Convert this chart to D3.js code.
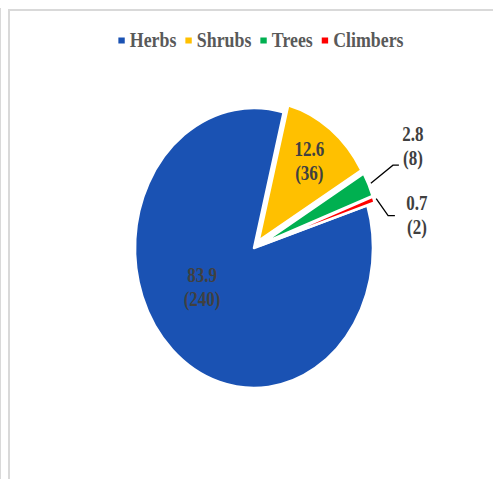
<!DOCTYPE html>
<html>
<head>
<meta charset="utf-8">
<script src="https://cdn.jsdelivr.net/npm/d3@7/dist/d3.min.js"></script>
<style>
  html, body { margin: 0; padding: 0; background: #ffffff; }
  svg { display: block; }
  text { font-family: "Liberation Serif", "Times New Roman", serif; font-weight: bold; }
</style>
</head>
<body>
<svg id="chart" width="493" height="479"></svg>
<script>
// Plant habit composition: share (%) and number of species
const categories = ["Herbs", "Shrubs", "Trees", "Climbers"];
const counts = [240, 36, 8, 2];
const percents = [83.9, 12.6, 2.8, 0.7];
const colors = ["#1A52B3", "#FFC000", "#00B050", "#FF0000"];

const W = 493, H = 479;
const svg = d3.select("#chart");
const deg = Math.PI / 180;

svg.append("rect").attr("width", W).attr("height", H).attr("fill", "#ffffff");

// chart area frame
const frame = svg.append("g").attr("stroke", "#d9d9d9").attr("fill", "none");
frame.append("line").attr("x1", 0.5).attr("y1", 8).attr("x2", 0.5).attr("y2", H).attr("stroke-width", 1);
frame.append("line").attr("x1", 9).attr("y1", 9).attr("x2", 9).attr("y2", H).attr("stroke-width", 2);
frame.append("line").attr("x1", 8).attr("y1", 10).attr("x2", W).attr("y2", 10).attr("stroke-width", 2);

// horizontal squash applied to the whole plot
const sx = 0.85;
const R = 140;
const explode = [0, 9, 9, 9];

const data = categories.map((c, i) => ({ name: c, count: counts[i], pct: percents[i], color: colors[i], i }));

const start = 72.3 * deg;
const pie = d3.pie().value(d => d.count).sort(null)
  .startAngle(start).endAngle(start + 2 * Math.PI);
const arcs = pie(data);
const arc = d3.arc().innerRadius(0).outerRadius(R);

const polar = (a, r) => [Math.sin(a) * r, -Math.cos(a) * r];
const mid = d => (d.startAngle + d.endAngle) / 2;

const plot = svg.append("g").attr("transform", `translate(254,248) scale(${sx},1)`);

plot.selectAll("path.slice")
  .data(arcs)
  .join("path")
  .attr("class", "slice")
  .attr("transform", d => {
    const [x, y] = polar(mid(d), explode[d.data.i]);
    return `translate(${x},${y})`;
  })
  .attr("d", arc)
  .attr("fill", d => d.data.color)
  .attr("stroke", "#ffffff")
  .attr("stroke-width", 2.5)
  .attr("stroke-linejoin", "round")
  .attr("vector-effect", "non-scaling-stroke");

const labelColor = "#404040";
const fs = 20, lh = 24;

// labels drawn inside their slices
const inside = [
  { i: 0, r: 73, turn: 13.5 * deg },
  { i: 1, r: 108, turn: 0 }
];
inside.forEach(c => {
  const d = arcs[c.i];
  const [x, y] = polar(mid(d) + c.turn, c.r);
  const t = plot.append("text")
    .attr("text-anchor", "middle")
    .attr("font-size", fs)
    .attr("fill", labelColor);
  t.append("tspan").attr("x", x).attr("y", y - 6).text(d.data.pct.toFixed(1));
  t.append("tspan").attr("x", x).attr("y", y - 6 + lh).text(`(${d.data.count})`);
});

// labels outside the pie with leader lines
const outside = [
  { i: 2, elbow: [26, -18], run: 7, dx: 16.5, base: -24 },
  { i: 3, elbow: [14, 17], run: 8, dx: 26, base: -6 }
];
outside.forEach(c => {
  const d = arcs[c.i];
  const [x0, y0] = polar(mid(d), R + explode[c.i] + 3);
  const x1 = x0 + c.elbow[0], y1 = y0 + c.elbow[1];
  const x2 = x1 + c.run;
  plot.append("polyline")
    .attr("points", `${x0},${y0} ${x1},${y1} ${x2},${y1}`)
    .attr("fill", "none")
    .attr("stroke", "#000000")
    .attr("stroke-width", 1.3)
    .attr("vector-effect", "non-scaling-stroke");
  const tx = x2 + c.dx;
  const t = plot.append("text")
    .attr("text-anchor", "middle")
    .attr("font-size", fs)
    .attr("fill", labelColor);
  t.append("tspan").attr("x", tx).attr("y", y1 + c.base).text(d.data.pct.toFixed(1));
  t.append("tspan").attr("x", tx).attr("y", y1 + c.base + lh).text(`(${d.data.count})`);
});

// legend across the top
const legend = svg.append("g");
const lg = legend.append("g");
const sq = 7.5, gapSq = 6, gapItem = 10.5;
let cx = 0;
data.forEach(d => {
  const item = lg.append("g").attr("transform", `translate(${cx},0)`);
  item.append("rect")
    .attr("x", 0).attr("y", -9.5)
    .attr("width", sq).attr("height", sq - 1.5)
    .attr("fill", d.color);
  const t = item.append("text")
    .attr("x", sq + gapSq).attr("y", 0)
    .attr("font-size", 21)
    .attr("fill", "#595959")
    .text(d.name);
  cx += sq + gapSq + t.node().getComputedTextLength() + gapItem;
});
const total = (cx - gapItem) * sx;
legend.attr("transform", `translate(${261 - total / 2},47) scale(${sx},1)`);
</script>
</body>
</html>
